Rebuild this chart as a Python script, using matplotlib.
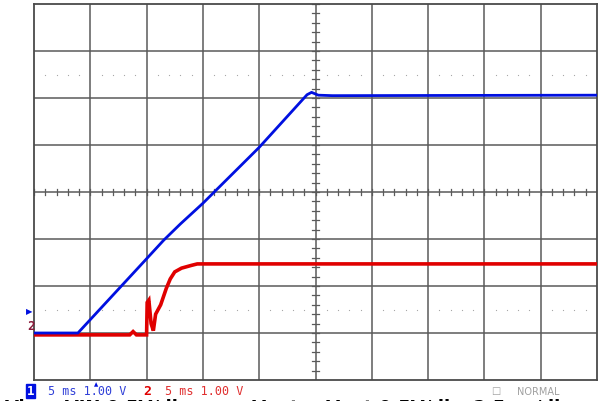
import numpy as np
import matplotlib
matplotlib.use("Agg")
import matplotlib.pyplot as plt

# traces in screen divisions (x: 0..10, y: -4..4, 0 = centre)
blue_x = [0.0, 0.78, 2.0, 2.3, 2.6, 3.0, 4.0, 4.85, 4.93, 5.05, 5.3, 10.0]
blue_y = [-3.0, -3.0, -1.42, -1.03, -0.68, -0.24, 0.95, 2.07, 2.12, 2.06, 2.05, 2.06]

red_x = [0.0, 1.70, 1.76, 1.82, 2.0, 2.01, 2.04, 2.08, 2.12, 2.16, 2.25, 2.35,
         2.42, 2.5, 2.62, 2.8, 2.9, 10.0]
red_y = [-3.04, -3.04, -2.97, -3.04, -3.04, -2.35, -2.3, -2.8, -2.95, -2.6, -2.4,
         -2.05, -1.85, -1.7, -1.62, -1.56, -1.53, -1.53]

ch_labels = ["5 ms 1.00 V", "5 ms 1.00 V"]
mode_label = "NORMAL"
caption = "Vin = VIN 0.5V/div          Vout = Vout 0.5V/div, 2.5ms/div"

fig = plt.figure(figsize=(6.02, 4.02), dpi=100)
ax = fig.add_axes([34 / 602, 21 / 402, 563 / 602, 376 / 402])
ax.set_xlim(0, 10)
ax.set_ylim(-4, 4)
ax.set_xticks([])
ax.set_yticks([])
for s in ax.spines.values():
    s.set_color("#4a4a4a")
    s.set_linewidth(1.3)

grid_c = "#5a5a5a"
for gx in range(1, 10):
    ax.axvline(gx, color=grid_c, lw=1.1, zorder=1)
for gy in range(-3, 4):
    ax.axhline(gy, color=grid_c, lw=1.1, zorder=1)

# minor ticks on centre cross
for t in np.arange(0, 10.01, 0.2):
    ax.plot([t, t], [-0.06, 0.06], color=grid_c, lw=0.9, zorder=1)
for t in np.arange(-4, 4.01, 0.2):
    ax.plot([4.93, 5.07], [t, t], color=grid_c, lw=0.9, zorder=1)

# dotted 10%/90% lines
dots = [d + k * 0.2 for d in range(10) for k in range(1, 5) if abs(d + k * 0.2 - 5) > 0.05]
for yy in (2.5, -2.5):
    ax.plot(dots, [yy] * len(dots), ls="none", marker="s", ms=0.8, mew=0,
            color="#a8a8a8", zorder=1)

ax.plot(red_x, red_y, color="#e00000", lw=2.6, zorder=3, solid_joinstyle="miter")
ax.plot(blue_x, blue_y, color="#0010e0", lw=2.0, zorder=4)

# channel markers at left edge
fig.text(26 / 602, 1 - 312 / 402, "\u25B6", color="#0010e0", fontsize=6, va="center", ha="left")
fig.text(27 / 602, 1 - 327 / 402, "2", color="#8b1a3a", fontsize=9, fontweight="bold",
         va="center", ha="left", family="DejaVu Sans Mono")
# trigger position marker
fig.text(96 / 602, 1 - 384.5 / 402, "\u25B2", color="#0010e0", fontsize=4, va="center", ha="center")

# bottom readout
mono = "DejaVu Sans Mono"
fig.text(27 / 602, 1 - 392 / 402, "1", color="white", fontsize=9, fontweight="bold", family=mono,
         va="center", ha="left",
         bbox=dict(boxstyle="square,pad=0.05", fc="#0010e0", ec="#0010e0"))
fig.text(48 / 602, 1 - 392 / 402, ch_labels[0], color="#3040d8", fontsize=8.5, family=mono,
         va="center", ha="left")
fig.text(143 / 602, 1 - 392 / 402, "2", color="#e00000", fontsize=9.5, fontweight="bold",
         family=mono, va="center", ha="left")
fig.text(165 / 602, 1 - 392 / 402, ch_labels[1], color="#e03030", fontsize=8.5, family=mono,
         va="center", ha="left")
fig.text(491 / 602, 1 - 391 / 402, "\u25A1", color="#a0a0a0", fontsize=7, va="center", ha="left")
fig.text(517 / 602, 1 - 392 / 402, mode_label, color="#a0a0a0", fontsize=7, va="center", ha="left")

# caption, cut off at the bottom edge as in the screenshot
fig.text(5 / 602, 1 - 399 / 402, caption, color="black", fontsize=13, fontweight="bold",
         va="top", ha="left")

fig.savefig("out.png", dpi=100)
